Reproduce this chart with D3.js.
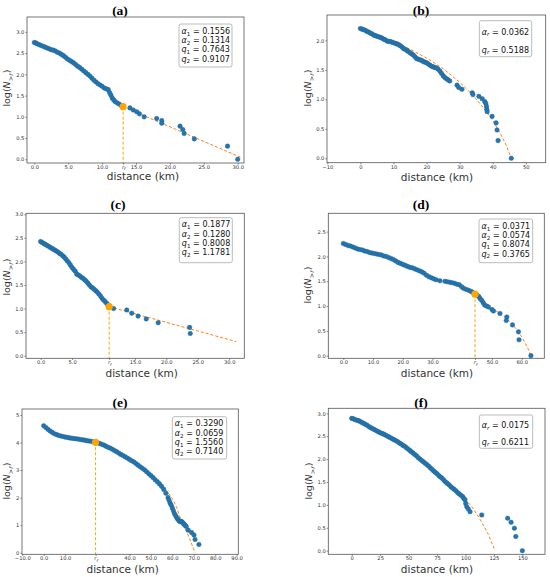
<!DOCTYPE html>
<html>
<head>
<meta charset="utf-8">
<script src="https://cdn.jsdelivr.net/npm/d3@7"></script>
<style>
body { margin: 0; background: #fff; }
svg text { font-family: "DejaVu Sans", sans-serif; }
</style>
</head>
<body>
<svg width="550" height="577"></svg>
<script>
// ---- data (distance in km, log N>r) ----

// (a)
var aDist = [0.0,0.2,0.4,0.7,1.0,1.3,1.6,1.9,2.2,2.5,2.8,3.1,3.4,3.7,4.0,4.3,4.6,4.9,5.2,5.5,5.8,6.1,6.4,6.7,7.0,7.3,7.6,7.9,8.2,8.5,8.8,9.1,9.4,9.7,10.0,10.3,10.6,10.9,11.1,11.3,11.5,11.7,11.9,12.2,12.5,12.8,
  14.1,14.6,15.1,15.5,16.2,18.05,18.8,18.8,21.5,21.9,22.1,23.6,28.5,30.0];
var aLogN = [2.75,2.74,2.72,2.70,2.68,2.66,2.64,2.62,2.60,2.58,2.57,2.55,2.52,2.50,2.47,2.44,2.40,2.36,2.33,2.30,2.27,2.23,2.19,2.16,2.12,2.08,2.04,2.00,1.96,1.91,1.86,1.82,1.78,1.75,1.72,1.68,1.66,1.64,1.57,1.51,1.44,1.40,1.36,1.33,1.30,1.27,
  1.21,1.16,1.12,1.07,1.00,0.96,0.91,0.85,0.78,0.70,0.61,0.48,0.31,0.0];
var aRf = [13.1, 1.24];
var aFitDist = [13.1, 30.4];
var aFitLog = [1.24, 0.05];
var aParams = ["0.1556", "0.1314", "0.7643", "0.9107"];
var aXTicks = [0, 5, 10, 13.1, 15, 20, 25, 30];
var aYTicks = [0, 0.5, 1, 1.5, 2, 2.5, 3];

// (b)
var bDist = [0,0.5,1,1.5,2,2.5,3,3.5,4,4.5,5,5.5,6,6.5,7,7.5,8,8.5,9,9.5,10,10.5,11,11.5,12,12.5,13,13.5,14,14.5,15,15.5,16,16.5,17,17.5,18,18.5,19,19.5,20,20.5,21,21.5,22,22.5,23,23.5,24,24.5,25,25.5,26,26.5,27,
  29.2,29.7,30.7,33.8,34.0,35.8,36.8,37.6,37.9,38.1,38.2,38.3,39.8,41.0,41.3,41.6,45.6];
var bLogN = [2.20,2.19,2.18,2.17,2.15,2.14,2.12,2.11,2.09,2.08,2.07,2.06,2.05,2.04,2.02,2.01,1.99,1.98,1.98,1.97,1.96,1.95,1.94,1.93,1.91,1.89,1.86,1.85,1.83,1.81,1.79,1.77,1.75,1.72,1.69,1.68,1.67,1.66,1.64,1.63,1.62,1.60,1.58,1.56,1.55,1.54,1.53,1.51,1.48,1.44,1.40,1.37,1.35,1.33,1.31,
  1.24,1.20,1.17,1.11,1.08,1.05,1.01,0.96,0.93,0.88,0.83,0.79,0.71,0.60,0.48,0.30,0.0];
var bFitDist = [0, 5, 10, 15, 20, 25, 30, 34, 38, 40, 42, 44, 45.6];
var bFitLog = [2.20, 2.10, 1.98, 1.85, 1.70, 1.52, 1.29, 1.07, 0.80, 0.64, 0.45, 0.23, 0.0];
var bParams = ["0.0362", "0.5188"];
var bXTicks = [-10, 0, 10, 20, 30, 40, 50];
var bYTicks = [0, 0.5, 1, 1.5, 2];

// (c)
var cDist = [0,0.25,0.5,0.75,1.0,1.25,1.5,1.75,2.0,2.25,2.5,2.75,3.0,3.25,3.5,3.75,4.0,4.25,4.5,4.75,5.0,5.25,5.5,5.75,6.0,6.25,6.5,6.75,7.0,7.25,7.5,7.75,8.0,8.25,8.5,8.75,9.0,9.25,9.5,9.75,10.0,10.25,10.5,10.7,
  11.6,13.7,14.5,15.5,16.8,18.7,23.7,23.8];
var cLogN = [2.42,2.40,2.38,2.36,2.34,2.32,2.30,2.28,2.26,2.24,2.22,2.20,2.17,2.15,2.12,2.09,2.05,2.01,1.97,1.92,1.87,1.83,1.79,1.73,1.71,1.69,1.66,1.64,1.61,1.58,1.54,1.50,1.46,1.44,1.41,1.38,1.35,1.31,1.27,1.22,1.18,1.15,1.11,1.08,
  1.00,0.97,0.90,0.84,0.78,0.70,0.60,0.47];
var cRf = [10.9, 1.04];
var cFitDist = [10.9, 31.1];
var cFitLog = [1.04, 0.30];
var cParams = ["0.1877", "0.1280", "0.8008", "1.1781"];
var cXTicks = [0, 5, 10.9, 15, 20, 25, 30];
var cYTicks = [0, 0.5, 1, 1.5, 2, 2.5, 3];

// (d)
var dDist = [0,0.8,1.6,2.4,3.2,4.0,4.8,5.6,6.4,7.2,8.0,8.8,9.6,10.4,11.2,12.0,12.8,13.6,14.4,15.2,16.0,16.8,17.6,18.4,19.2,20.0,20.8,21.6,22.4,23.2,24.0,24.8,25.6,26.4,27.2,28.0,28.8,29.6,30.4,31.2,
  32.5,34.2,35.0,35.8,36.6,37.4,38.2,39.0,39.8,40.4,41.2,42.1,42.8,43.4,45.0,45.6,46.0,46.5,47.0,47.5,48.2,48.8,50.0,50.5,52.7,55.0,54.8,56.9,58.9,59.1,63.1];
var dLogN = [2.26,2.24,2.22,2.21,2.19,2.17,2.15,2.14,2.13,2.11,2.10,2.08,2.07,2.06,2.05,2.04,2.03,2.01,2.00,1.98,1.96,1.94,1.91,1.88,1.86,1.84,1.82,1.80,1.78,1.77,1.75,1.73,1.71,1.69,1.66,1.62,1.59,1.57,1.55,1.53,
  1.51,1.50,1.49,1.48,1.47,1.46,1.44,1.43,1.39,1.36,1.34,1.32,1.30,1.28,1.22,1.19,1.15,1.12,1.07,1.02,1.00,0.98,0.93,0.90,0.85,0.78,0.71,0.62,0.48,0.32,0.0];
var dRf = [44.3, 1.24];
var dFitDist = [29, 33, 38, 44.3, 47, 50, 55, 58, 60, 62, 63.1];
var dFitLog = [1.59, 1.51, 1.42, 1.24, 1.11, 0.96, 0.75, 0.55, 0.38, 0.16, 0.0];
var dParams = ["0.0371", "0.0574", "0.8074", "0.3765"];
var dXTicks = [0, 10, 20, 30, 44.3, 50, 60];
var dYTicks = [0, 0.5, 1, 1.5, 2, 2.5];

// (e)
var eDist = [0,1,2,3,4,5,6,7,8,9,10,11,12,13,14,15,16,17,18,19,20,21,22,23,24,25,26,27,28,29,30,31,32,33,34,35,36,37,38,39,40,41,42,43,44,45,46,47,48,49,50,51,52,53,54,55,56,57,58,58.5,59,59.5,60,60.5,61,61.5,62,62.5,63,63.5,64,64.5,65,65.5,66,66.5,
  67.4,69.0,70.1,70.6,72.4];
var eLogN = [4.61,4.55,4.48,4.42,4.37,4.32,4.29,4.26,4.24,4.22,4.20,4.19,4.17,4.16,4.15,4.14,4.13,4.11,4.10,4.09,4.07,4.06,4.05,4.03,4.02,4.00,3.97,3.94,3.91,3.87,3.83,3.80,3.76,3.71,3.67,3.62,3.57,3.53,3.48,3.44,3.39,3.34,3.30,3.24,3.18,3.12,3.07,3.01,2.94,2.87,2.80,2.73,2.65,2.58,2.50,2.41,2.30,2.16,2.00,1.90,1.80,1.72,1.62,1.52,1.42,1.35,1.28,1.22,1.17,1.13,1.14,1.12,1.08,1.03,0.99,0.95,
  0.82,0.73,0.64,0.48,0.30];
var eRf = [24.2, 4.01];
var eFitDist = [24.2, 30, 40, 50, 55, 58, 60, 62, 64, 66, 68, 70.6];
var eFitLog = [4.01, 3.84, 3.42, 2.84, 2.45, 2.18, 1.97, 1.65, 1.20, 0.88, 0.52, 0.0];
var eParams = ["0.3290", "0.0659", "1.5560", "0.7140"];
var eXTicks = [-10, 0, 10, 24.2, 40, 50, 60, 70, 80, 90];
var eYTicks = [0, 1, 2, 3, 4, 5];

// (f)
var fDist = [0,1.5,3,4.5,6,7.5,9,10.5,12,13.5,15,16.5,18,19.5,21,22.5,24,25.5,27,28.5,30,31.5,33,34.5,36,37.5,39,40.5,42,43.5,45,46.5,48,49.5,51,52.5,54,55.5,57,58.5,60,61.5,63,64.5,66,67.5,69,70.5,72,73.5,75,76.5,78,79.5,81,82.5,84,85.5,87,88.5,90,91.5,93,94.5,96,
  97.5,98.5,99.6,100.2,101.1,102.5,104.0,114.3,137.1,140.1,143.0,144.2,150.0];
var fLogN = [2.89,2.88,2.86,2.85,2.84,2.82,2.80,2.78,2.76,2.74,2.71,2.69,2.67,2.65,2.63,2.61,2.59,2.57,2.56,2.54,2.52,2.50,2.48,2.46,2.44,2.42,2.40,2.38,2.35,2.33,2.30,2.28,2.25,2.22,2.19,2.16,2.13,2.10,2.07,2.03,2.00,1.97,1.94,1.91,1.88,1.85,1.81,1.78,1.74,1.71,1.68,1.64,1.61,1.58,1.54,1.50,1.47,1.44,1.40,1.37,1.34,1.31,1.27,1.24,1.21,
  1.18,1.14,1.11,1.03,0.96,0.91,0.85,0.78,0.71,0.62,0.49,0.31,0.0];
var fFitDist = [0, 20, 40, 60, 70, 80, 90, 100, 105, 110, 115, 120, 126];
var fFitLog = [2.88, 2.66, 2.38, 2.03, 1.84, 1.62, 1.37, 1.12, 0.98, 0.80, 0.59, 0.36, 0.0];
var fParams = ["0.0175", "0.6211"];
var fXTicks = [0, 25, 50, 75, 100, 125, 150];
var fYTicks = [0, 0.5, 1, 1.5, 2, 2.5, 3];

var fourSyms = [["α", "1"], ["α", "2"], ["q", "1"], ["q", "2"]];
var twoSyms = [["α", "r"], ["q", "r"]];

// ---- layout of the six panels ----
var panels = [
  { name: "(a)", tx: 120, ty: 15, l: 27, r: 244, t: 17, b: 163, xlim: [-1.08, 30.93], ylim: [-0.087, 3.35],
    xs: aDist, ys: aLogN, rf: aRf, fx: aFitDist, fy: aFitLog, xt: aXTicks, yt: aYTicks, xf: ".1f", yf: ".1f",
    par: aParams, syms: fourSyms, lg: [179, 24, 53, 43], xl: [143, 180], yl: [10, 88] },
  { name: "(b)", tx: 421, ty: 15, l: 327, r: 545.7, t: 15, b: 162.7, xlim: [-10.1, 56], ylim: [-0.075, 2.43],
    xs: bDist, ys: bLogN, rf: null, fx: bFitDist, fy: bFitLog, xt: bXTicks, yt: bYTicks, xf: "d", yf: ".1f",
    par: bParams, syms: twoSyms, lg: [479.3, 20.7, 52.4, 36], xl: [437, 180.5], yl: [311, 88] },
  { name: "(c)", tx: 118, ty: 209, l: 26, r: 244.3, t: 213.3, b: 358.3, xlim: [-2.33, 32.4], ylim: [-0.055, 3.02],
    xs: cDist, ys: cLogN, rf: cRf, fx: cFitDist, fy: cFitLog, xt: cXTicks, yt: cYTicks, xf: ".1f", yf: ".1f",
    par: cParams, syms: fourSyms, lg: [179.3, 217.7, 53, 45], xl: [141.7, 377], yl: [10, 277] },
  { name: "(d)", tx: 421, ty: 209, l: 328.3, r: 544.3, t: 213.3, b: 358.3, xlim: [-5.05, 67.6], ylim: [-0.053, 2.87],
    xs: dDist, ys: dLogN, rf: dRf, fx: dFitDist, fy: dFitLog, xt: dXTicks, yt: dYTicks, xf: ".1f", yf: ".1f",
    par: dParams, syms: fourSyms, lg: [479, 219, 53.7, 43.7], xl: [437, 377], yl: [311, 285] },
  { name: "(e)", tx: 120, ty: 407, l: 22, r: 238.3, t: 409, b: 554.3, xlim: [-10.12, 90.77], ylim: [-0.058, 5.22],
    xs: eDist, ys: eLogN, rf: eRf, fx: eFitDist, fy: eFitLog, xt: eXTicks, yt: eYTicks, xf: ".1f", yf: "d",
    par: eParams, syms: fourSyms, lg: [172.3, 416.7, 54.4, 42.3], xl: [122.7, 573], yl: [10, 481] },
  { name: "(f)", tx: 421, ty: 407, l: 328.3, r: 545, t: 408.3, b: 554.3, xlim: [-20.6, 169.9], ylim: [-0.079, 3.11],
    xs: fDist, ys: fLogN, rf: null, fx: fFitDist, fy: fFitLog, xt: fXTicks, yt: fYTicks, xf: "d", yf: ".1f",
    par: fParams, syms: twoSyms, lg: [479.3, 415, 53.4, 33.3], xl: [437, 572.5], yl: [312, 481] }
];

var svg = d3.select("svg");

panels.forEach(function(p) {
  var x = d3.scaleLinear().domain(p.xlim).range([p.l, p.r]);
  var y = d3.scaleLinear().domain(p.ylim).range([p.b, p.t]);
  var g = svg.append("g");

  // title
  g.append("text").attr("x", p.tx).attr("y", p.ty)
    .attr("text-anchor", "middle")
    .style("font-family", "'Liberation Serif', serif").style("font-weight", "bold").style("font-size", "13.5px")
    .text(p.name);

  // fitted curve
  var line = d3.line().x(function(d) { return x(d[0]); }).y(function(d) { return y(d[1]); });
  g.append("path").datum(d3.zip(p.fx, p.fy))
    .attr("d", line).attr("fill", "none")
    .attr("stroke", "#ff7f0e").attr("stroke-width", 1).attr("stroke-dasharray", "3,2");

  // vertical line at r_f
  if (p.rf) {
    g.append("line")
      .attr("x1", x(p.rf[0])).attr("x2", x(p.rf[0]))
      .attr("y1", y(p.rf[1])).attr("y2", p.b)
      .attr("stroke", "#ffa500").attr("stroke-width", 1).attr("stroke-dasharray", "3,2");
  }

  // observations
  g.append("g").selectAll("circle").data(d3.zip(p.xs, p.ys)).enter()
    .append("circle")
    .attr("cx", function(d) { return x(d[0]); })
    .attr("cy", function(d) { return y(d[1]); })
    .attr("r", 2.3)
    .attr("fill", "#1f77b4")
    .attr("stroke", "#2b5d86").attr("stroke-width", 0.4);

  if (p.rf) {
    g.append("circle").attr("cx", x(p.rf[0])).attr("cy", y(p.rf[1])).attr("r", 3.6).attr("fill", "#ffa500");
  }

  // frame
  g.append("rect").attr("x", p.l).attr("y", p.t)
    .attr("width", p.r - p.l).attr("height", p.b - p.t)
    .attr("fill", "none").attr("stroke", "#555").attr("stroke-width", 0.8);

  // axes
  var xfmt = d3.format(p.xf), yfmt = d3.format(p.yf);
  var rfx = p.rf ? p.rf[0] : null;
  var xa = d3.axisBottom(x).tickValues(p.xt).tickSize(1.6).tickPadding(0.8)
    .tickFormat(function(d) { return d === rfx ? "" : xfmt(d); });
  var gx = g.append("g").attr("transform", "translate(0," + p.b + ")").call(xa);
  var ya = d3.axisLeft(y).tickValues(p.yt).tickSize(1.6).tickPadding(1).tickFormat(yfmt);
  var gy = g.append("g").attr("transform", "translate(" + p.l + ",0)").call(ya);
  [gx, gy].forEach(function(ax) {
    ax.select(".domain").remove();
    ax.selectAll(".tick line").attr("stroke", "#555").attr("stroke-width", 0.7);
    ax.selectAll(".tick text").attr("fill", "#333").style("font-size", "5.2px");
  });
  if (p.rf) {
    var t = gx.selectAll(".tick text").filter(function(d) { return d === rfx; });
    t.append("tspan").style("font-style", "italic").text("r");
    t.append("tspan").attr("dy", "1.2").style("font-size", "3.8px").style("font-style", "italic").text("f");
  }

  // axis labels
  g.append("text").attr("x", p.xl[0]).attr("y", p.xl[1])
    .attr("text-anchor", "middle").style("font-size", "10.5px").attr("fill", "#333")
    .text("distance (km)");
  var yl = g.append("text")
    .attr("transform", "translate(" + p.yl[0] + "," + p.yl[1] + ") rotate(-90)")
    .attr("text-anchor", "middle").style("font-size", "9.5px").attr("fill", "#333");
  yl.append("tspan").text("log(");
  yl.append("tspan").style("font-style", "italic").text("N");
  yl.append("tspan").attr("dy", "2.5").style("font-size", "6.5px").text(">");
  yl.append("tspan").style("font-size", "6.5px").style("font-style", "italic").text("r");
  yl.append("tspan").attr("dy", "-2.5").text(")");

  // parameter box
  var lg = p.lg;
  g.append("rect").attr("x", lg[0]).attr("y", lg[1]).attr("width", lg[2]).attr("height", lg[3])
    .attr("rx", 2).attr("fill", "#fff").attr("fill-opacity", 0.85)
    .attr("stroke", "#aaa").attr("stroke-width", 0.8);
  p.par.forEach(function(v, i) {
    var cy = p.par.length === 4 ? lg[1] + 6.7 + i * 9.3 : lg[1] + lg[3] * (i === 0 ? 0.3 : 0.8);
    var tt = g.append("text").attr("x", lg[0] + 2.5).attr("y", cy + 3)
      .style("font-size", "8px").attr("fill", "#111");
    tt.append("tspan").style("font-style", "italic").text(p.syms[i][0]);
    tt.append("tspan").attr("dy", "1.8").style("font-size", "5.6px")
      .style("font-style", p.syms[i][1] === "r" ? "italic" : "normal").text(p.syms[i][1]);
    tt.append("tspan").attr("dy", "-1.8").text(" = " + v);
  });
});
</script>
</body>
</html>
